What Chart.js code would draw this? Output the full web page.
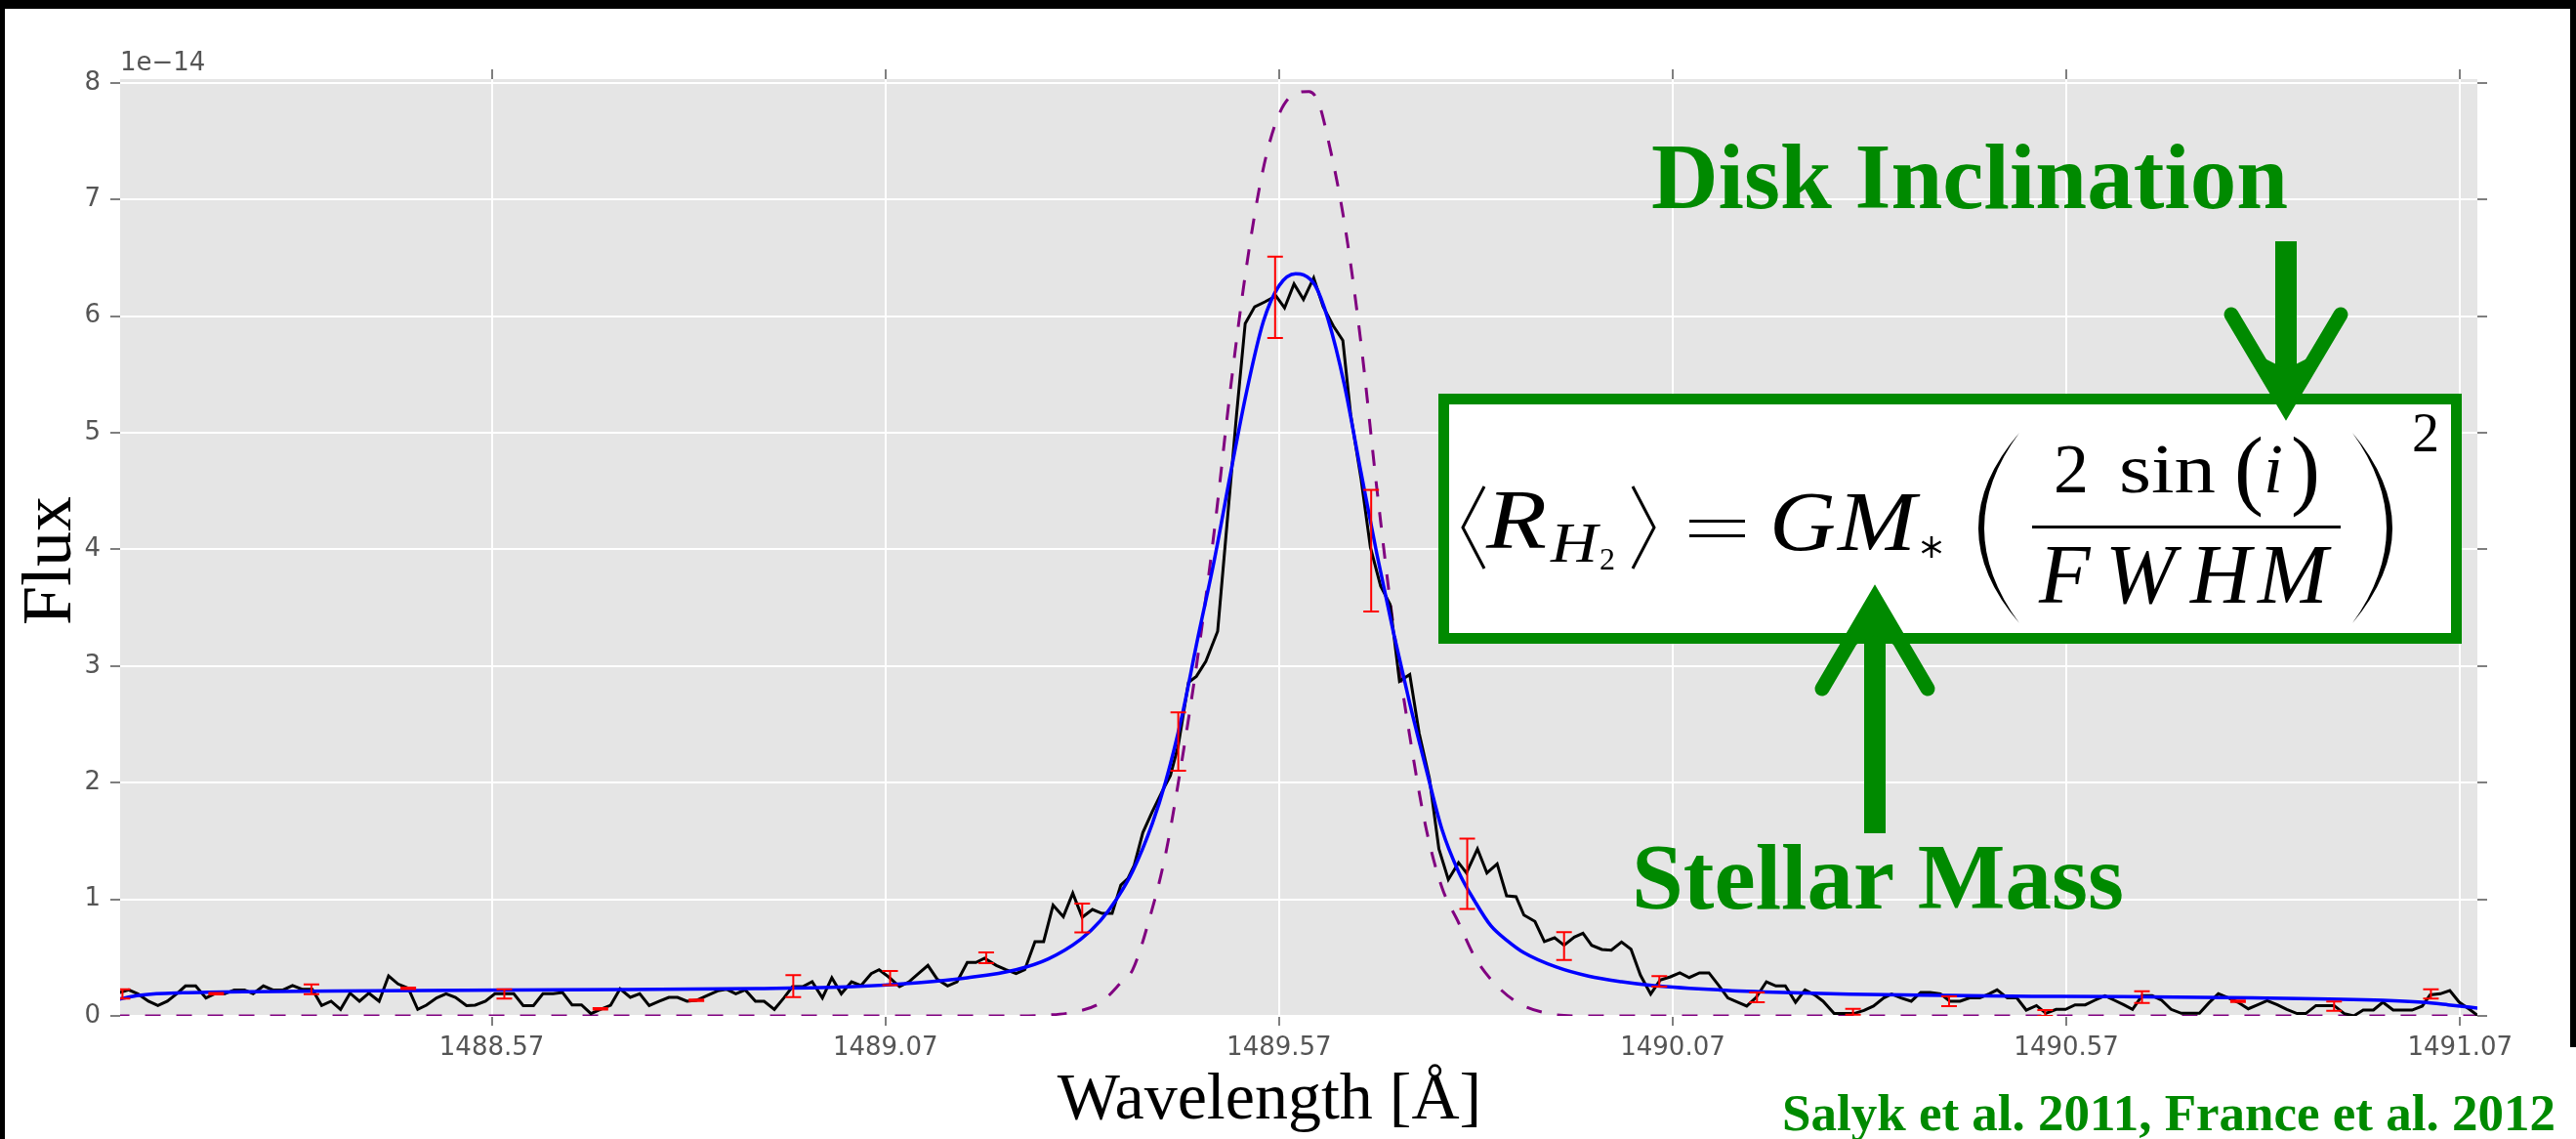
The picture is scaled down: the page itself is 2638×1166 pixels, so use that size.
<!DOCTYPE html>
<html>
<head>
<meta charset="utf-8">
<script src="https://cdn.jsdelivr.net/npm/chart.js@4.4.1/dist/chart.umd.min.js"></script>
<style>
  html, body { margin: 0; padding: 0; background: #fff; }
  #wrap { width: 2638px; height: 1166px; }
</style>
</head>
<body>
<div id="wrap"><canvas id="spec" width="2638" height="1166"></canvas></div>
<script>
// observed H2 line profile (flux in units of 1e-14)
const obsWave = [
  1488.094, 1488.109, 1488.121, 1488.134, 1488.146, 1488.158, 1488.171, 1488.181, 1488.194, 1488.207,
  1488.218, 1488.231, 1488.243, 1488.256, 1488.267, 1488.280, 1488.292, 1488.305, 1488.317, 1488.329,
  1488.342, 1488.354, 1488.366, 1488.378, 1488.390, 1488.402, 1488.414, 1488.427, 1488.439, 1488.451,
  1488.464, 1488.476, 1488.487, 1488.500, 1488.512, 1488.524, 1488.538, 1488.549, 1488.562, 1488.574,
  1488.586, 1488.598, 1488.610, 1488.623, 1488.635, 1488.648, 1488.660, 1488.672, 1488.684, 1488.696,
  1488.708, 1488.721, 1488.733, 1488.746, 1488.758, 1488.770, 1488.783, 1488.795, 1488.806, 1488.818,
  1488.830, 1488.843, 1488.857, 1488.868, 1488.880, 1488.892, 1488.905, 1488.916, 1488.929, 1488.941,
  1488.952, 1488.965, 1488.977, 1488.990, 1489.002, 1489.014, 1489.027, 1489.039, 1489.052, 1489.062,
  1489.074, 1489.088, 1489.100, 1489.112, 1489.124, 1489.136, 1489.149, 1489.161, 1489.174, 1489.185,
  1489.196, 1489.211, 1489.223, 1489.236, 1489.247, 1489.260, 1489.271, 1489.283, 1489.296, 1489.308,
  1489.320, 1489.333, 1489.345, 1489.358, 1489.369, 1489.378, 1489.386, 1489.397, 1489.409, 1489.422,
  1489.432, 1489.442, 1489.455, 1489.465, 1489.477, 1489.492, 1489.504, 1489.516, 1489.527, 1489.539,
  1489.552, 1489.566, 1489.577, 1489.589, 1489.601, 1489.614, 1489.626, 1489.639, 1489.651, 1489.661,
  1489.674, 1489.686, 1489.699, 1489.711, 1489.723, 1489.736, 1489.748, 1489.761, 1489.773, 1489.785,
  1489.798, 1489.808, 1489.822, 1489.834, 1489.847, 1489.859, 1489.871, 1489.881, 1489.895, 1489.907,
  1489.920, 1489.932, 1489.945, 1489.956, 1489.967, 1489.980, 1489.992, 1490.005, 1490.017, 1490.029,
  1490.042, 1490.054, 1490.067, 1490.079, 1490.091, 1490.104, 1490.116, 1490.129, 1490.140, 1490.153,
  1490.164, 1490.176, 1490.189, 1490.201, 1490.213, 1490.226, 1490.238, 1490.250, 1490.261, 1490.275,
  1490.288, 1490.300, 1490.313, 1490.325, 1490.338, 1490.348, 1490.360, 1490.373, 1490.385, 1490.397,
  1490.410, 1490.422, 1490.435, 1490.447, 1490.460, 1490.472, 1490.482, 1490.495, 1490.507, 1490.519,
  1490.532, 1490.544, 1490.557, 1490.569, 1490.581, 1490.594, 1490.606, 1490.619, 1490.631, 1490.643,
  1490.654, 1490.666, 1490.679, 1490.691, 1490.703, 1490.716, 1490.728, 1490.739, 1490.751, 1490.763,
  1490.776, 1490.788, 1490.801, 1490.813, 1490.825, 1490.838, 1490.850, 1490.863, 1490.874, 1490.887,
  1490.899, 1490.910, 1490.923, 1490.935, 1490.947, 1490.960, 1490.972, 1490.985, 1490.997, 1491.009,
  1491.022, 1491.032, 1491.045, 1491.057, 1491.069, 1491.082, 1491.092
];
const obsFlux = [
  0.195, 0.223, 0.187, 0.126, 0.089, 0.126, 0.195, 0.257, 0.257, 0.154,
  0.190, 0.190, 0.223, 0.223, 0.190, 0.257, 0.223, 0.223, 0.260, 0.229,
  0.229, 0.089, 0.126, 0.056, 0.195, 0.126, 0.195, 0.126, 0.343, 0.274,
  0.237, 0.056, 0.092, 0.154, 0.190, 0.159, 0.089, 0.092, 0.126, 0.190,
  0.190, 0.190, 0.089, 0.089, 0.190, 0.190, 0.201, 0.095, 0.095, 0.020,
  0.056, 0.092, 0.232, 0.159, 0.190, 0.089, 0.126, 0.159, 0.159, 0.126,
  0.134, 0.173, 0.215, 0.229, 0.190, 0.223, 0.126, 0.126, 0.056, 0.154,
  0.251, 0.251, 0.293, 0.154, 0.327, 0.190, 0.293, 0.260, 0.363, 0.396,
  0.335, 0.251, 0.293, 0.363, 0.433, 0.313, 0.257, 0.293, 0.458, 0.458,
  0.494, 0.433, 0.396, 0.363, 0.396, 0.637, 0.637, 0.949, 0.851, 1.052,
  0.846, 0.913, 0.879, 0.879, 1.122, 1.177, 1.290, 1.572, 1.752, 1.932,
  2.061, 2.319, 2.860, 2.912, 3.040, 3.298, 4.226, 5.154, 5.937, 6.081,
  6.123, 6.174, 6.071, 6.277, 6.143, 6.329, 6.081, 5.916, 5.793, 5.154,
  4.612, 4.020, 3.685, 3.530, 2.870, 2.927, 2.422, 2.035, 1.432, 1.169,
  1.314, 1.226, 1.432, 1.226, 1.303, 1.030, 1.022, 0.865, 0.810, 0.637,
  0.670, 0.606, 0.676, 0.709, 0.606, 0.570, 0.564, 0.634, 0.572, 0.349,
  0.187, 0.307, 0.335, 0.369, 0.329, 0.369, 0.369, 0.257, 0.154, 0.117,
  0.084, 0.159, 0.293, 0.257, 0.257, 0.117, 0.223, 0.181, 0.126, 0.020,
  0.020, 0.020, 0.047, 0.084, 0.154, 0.187, 0.154, 0.126, 0.201, 0.201,
  0.190, 0.126, 0.126, 0.154, 0.154, 0.190, 0.223, 0.154, 0.154, 0.050,
  0.089, 0.022, 0.056, 0.056, 0.095, 0.095, 0.134, 0.173, 0.134, 0.095,
  0.056, 0.173, 0.173, 0.134, 0.056, 0.022, 0.022, 0.022, 0.112, 0.190,
  0.154, 0.117, 0.061, 0.095, 0.131, 0.095, 0.056, 0.020, 0.020, 0.089,
  0.089, 0.089, 0.020, 0.000, 0.050, 0.050, 0.117, 0.050, 0.050, 0.050,
  0.084, 0.181, 0.190, 0.218, 0.117, 0.056, 0.006
];

// model fit (blue)
const fitWave = [
  1488.094, 1488.119, 1488.144, 1488.177, 1488.260, 1488.425, 1488.591, 1488.739, 1488.905, 1489.029,
  1489.112, 1489.174, 1489.236, 1489.277, 1489.318, 1489.343, 1489.364, 1489.384, 1489.409, 1489.426,
  1489.446, 1489.467, 1489.488, 1489.508, 1489.529, 1489.550, 1489.570, 1489.591, 1489.601, 1489.616,
  1489.632, 1489.653, 1489.674, 1489.694, 1489.715, 1489.736, 1489.757, 1489.777, 1489.798, 1489.819,
  1489.839, 1489.860, 1489.881, 1489.922, 1489.963, 1490.005, 1490.046, 1490.129, 1490.211, 1490.294,
  1490.418, 1490.526, 1490.641, 1490.807, 1490.972, 1491.022, 1491.055, 1491.096
];
const fitFlux = [
  0.140, 0.173, 0.190, 0.198, 0.207, 0.215, 0.223, 0.226, 0.235, 0.251,
  0.285, 0.327, 0.396, 0.489, 0.656, 0.815, 1.005, 1.240, 1.649, 2.010,
  2.551, 3.247, 3.917, 4.638, 5.360, 5.953, 6.262, 6.365, 6.355, 6.262,
  5.978, 5.411, 4.664, 3.968, 3.298, 2.680, 2.113, 1.597, 1.236, 0.979,
  0.773, 0.644, 0.542, 0.419, 0.341, 0.293, 0.260, 0.223, 0.201, 0.187,
  0.176, 0.168, 0.166, 0.154, 0.134, 0.117, 0.095, 0.064
];

// intrinsic (unconvolved) profile, purple dashed
const intrWave = [
  1488.090, 1489.240, 1489.269, 1489.310, 1489.343, 1489.372, 1489.384, 1489.405, 1489.426, 1489.446,
  1489.467, 1489.488, 1489.508, 1489.529, 1489.550, 1489.570, 1489.591, 1489.608, 1489.620, 1489.632,
  1489.653, 1489.674, 1489.694, 1489.715, 1489.736, 1489.757, 1489.777, 1489.798, 1489.819, 1489.845,
  1489.874, 1489.916, 1489.950, 1491.095
];
const intrFlux = [
  0.000, 0.000, 0.005, 0.034, 0.112, 0.307, 0.395, 0.824, 1.391, 2.164,
  3.092, 4.174, 5.360, 6.442, 7.267, 7.731, 7.911, 7.927, 7.834, 7.525,
  6.803, 5.772, 4.535, 3.350, 2.400, 1.600, 1.100, 0.800, 0.500, 0.270,
  0.110, 0.015, 0.000, 0.000
];

// sparse error bars (red)
const errWave = [
  1488.101, 1488.220, 1488.341, 1488.464, 1488.586, 1488.708, 1488.830, 1488.953, 1489.076, 1489.198,
  1489.320, 1489.442, 1489.565, 1489.687, 1489.809, 1489.932, 1490.053, 1490.177, 1490.299, 1490.421,
  1490.543, 1490.666, 1490.788, 1490.910, 1491.033
];
const errFlux = [
  0.188, 0.190, 0.229, 0.237, 0.188, 0.061, 0.134, 0.255, 0.324, 0.498,
  0.840, 2.353, 6.162, 3.989, 1.219, 0.599, 0.296, 0.159, 0.035, 0.126,
  0.025, 0.162, 0.126, 0.084, 0.188
];
const errSize = [
  0.040, 0.006, 0.042, 0.006, 0.040, 0.006, 0.006, 0.094, 0.061, 0.046,
  0.123, 0.250, 0.348, 0.521, 0.302, 0.119, 0.045, 0.042, 0.025, 0.042,
  0.025, 0.050, 0.006, 0.039, 0.040
];

const xTicks = [1488.57, 1489.07, 1489.57, 1490.07, 1490.57, 1491.07];
const yTicks = [0, 1, 2, 3, 4, 5, 6, 7, 8];

const GREEN = '#008a00';
const SERIF = '"Liberation Serif", "Times New Roman", serif';
const TICK_FONT = { family: 'DejaVu Sans', size: 26 };

function pairs(xs, ys) {
  return xs.map((x, i) => ({ x: x, y: ys[i] }));
}

// grey ggplot-ish panel and the black frame of the slide
const backdrop = {
  id: 'backdrop',
  beforeDraw(chart) {
    const { ctx, chartArea: a, width, height } = chart;
    ctx.save();
    ctx.fillStyle = '#ffffff';
    ctx.fillRect(0, 0, width, height);
    ctx.fillStyle = '#e5e5e5';
    ctx.fillRect(a.left, a.top, a.right - a.left, a.bottom - a.top);
    ctx.fillStyle = '#000';
    ctx.fillRect(0, 0, width, 9);
    ctx.fillRect(0, 0, 5, height);
    ctx.fillRect(2632, 0, 6, 1072);
    ctx.restore();
  }
};

const errorBars = {
  id: 'errorBars',
  afterDatasetsDraw(chart) {
    const { ctx, chartArea: a, scales: { x, y } } = chart;
    ctx.save();
    ctx.beginPath();
    ctx.rect(a.left, a.top, a.right - a.left, a.bottom - a.top);
    ctx.clip();
    ctx.strokeStyle = '#ff0000';
    ctx.lineWidth = 2;
    errWave.forEach((w, i) => {
      const px = x.getPixelForValue(w);
      const top = y.getPixelForValue(errFlux[i] + errSize[i]);
      const bot = y.getPixelForValue(errFlux[i] - errSize[i]);
      ctx.beginPath();
      ctx.moveTo(px, top); ctx.lineTo(px, bot);
      ctx.moveTo(px - 8, top); ctx.lineTo(px + 8, top);
      ctx.moveTo(px - 8, bot); ctx.lineTo(px + 8, bot);
      ctx.stroke();
    });
    ctx.restore();
  }
};

function bigParen(ctx, xEnd, xMid, yTop, yBot, t) {
  const ym = (yTop + yBot) / 2;
  const dir = Math.sign(xEnd - xMid);
  const c1 = 2 * xMid - xEnd;
  const c2 = 2 * (xMid + dir * t) - xEnd;
  ctx.beginPath();
  ctx.moveTo(xEnd, yTop);
  ctx.quadraticCurveTo(c1, ym, xEnd, yBot);
  ctx.quadraticCurveTo(c2, ym, xEnd, yTop);
  ctx.fill();
}

function fitText(ctx, text, x, y, width) {
  const w = ctx.measureText(text).width;
  ctx.save();
  ctx.translate(x, y);
  ctx.scale(width / w, 1);
  ctx.fillText(text, 0, 0);
  ctx.restore();
}

// marker-style arrow: thick shaft plus two heavy wings meeting at the tip
function arrow(ctx, x, yTail, yTip, headLen, headHalf) {
  const d = Math.sign(yTip - yTail);
  const yb = yTip - d * headLen;
  ctx.fillStyle = GREEN;
  ctx.strokeStyle = GREEN;
  ctx.fillRect(x - 11, Math.min(yTail, yTip - d * 20), 22, Math.abs(yTip - d * 20 - yTail));
  ctx.lineWidth = 15;
  ctx.lineCap = 'round';
  ctx.beginPath();
  ctx.moveTo(x - headHalf + 6, yb);
  ctx.lineTo(x, yTip - d * 8);
  ctx.lineTo(x + headHalf - 6, yb);
  ctx.stroke();
  ctx.beginPath();
  ctx.moveTo(x, yTip);
  ctx.lineTo(x - headHalf * 0.55, yTip - d * headLen * 0.62);
  ctx.lineTo(x, yTip - d * headLen * 0.45);
  ctx.lineTo(x + headHalf * 0.55, yTip - d * headLen * 0.62);
  ctx.closePath();
  ctx.fill();
  ctx.lineCap = 'butt';
}

function drawFormula(ctx) {
  ctx.fillStyle = '#ffffff';
  ctx.fillRect(1473, 403, 1048, 256);
  ctx.strokeStyle = GREEN;
  ctx.lineWidth = 11;
  ctx.strokeRect(1478.5, 408.5, 1037, 245);

  ctx.fillStyle = '#000';
  ctx.strokeStyle = '#000';
  ctx.lineWidth = 3;
  ctx.beginPath();
  ctx.moveTo(1520, 498); ctx.lineTo(1498, 540); ctx.lineTo(1520, 582);
  ctx.moveTo(1672, 498); ctx.lineTo(1694, 540); ctx.lineTo(1672, 582);
  ctx.stroke();

  ctx.textAlign = 'left';
  ctx.textBaseline = 'alphabetic';
  ctx.font = 'italic 86px ' + SERIF;
  fitText(ctx, 'R', 1522, 561, 62);
  fitText(ctx, 'G', 1812, 563, 68);
  fitText(ctx, 'M', 1882, 563, 80);
  ctx.font = 'italic 56px ' + SERIF;
  fitText(ctx, 'H', 1588, 575, 48);
  ctx.font = '32px ' + SERIF;
  ctx.fillText('2', 1638, 583);

  // equals sign
  ctx.fillRect(1730, 532, 57, 3);
  ctx.fillRect(1730, 547, 57, 3);

  // subscript asterisk
  ctx.lineWidth = 2.5;
  ctx.beginPath();
  for (let k = 0; k < 3; k++) {
    const ang = Math.PI / 2 + k * Math.PI / 3;
    ctx.moveTo(1978 + 11 * Math.cos(ang), 560 + 11 * Math.sin(ang));
    ctx.lineTo(1978 - 11 * Math.cos(ang), 560 - 11 * Math.sin(ang));
  }
  ctx.stroke();

  bigParen(ctx, 2068, 2026, 443, 638, 6);
  bigParen(ctx, 2409, 2450, 443, 638, 6);

  // numerator 2 sin(i)
  ctx.font = '72px ' + SERIF;
  ctx.fillText('2', 2103, 504);
  fitText(ctx, 'sin', 2170, 504, 99);
  ctx.font = '90px ' + SERIF;
  ctx.fillText('(', 2288, 510);
  ctx.fillText(')', 2346, 510);
  ctx.font = 'italic 72px ' + SERIF;
  ctx.fillText('i', 2318, 504);

  ctx.fillRect(2081, 538, 316, 3);

  ctx.font = 'italic 86px ' + SERIF;
  ctx.fillText('F', 2088, 617);
  ctx.fillText('W', 2156, 617);
  ctx.fillText('H', 2243, 617);
  ctx.fillText('M', 2312, 617);

  ctx.font = '56px ' + SERIF;
  ctx.fillText('2', 2470, 462);
}

const annotations = {
  id: 'annotations',
  afterDraw(chart) {
    const ctx = chart.ctx;
    ctx.save();
    drawFormula(ctx);
    arrow(ctx, 2341, 247, 424, 102, 62);
    arrow(ctx, 1920, 853, 605, 100, 60);

    ctx.fillStyle = GREEN;
    ctx.textAlign = 'left';
    ctx.textBaseline = 'alphabetic';
    ctx.font = 'bold 95px ' + SERIF;
    ctx.fillText('Disk Inclination', 1691, 213);
    ctx.fillText('Stellar Mass', 1671, 930);
    ctx.font = 'bold 53px ' + SERIF;
    ctx.fillText('Salyk et al. 2011, France et al. 2012', 1825, 1157);

    // axis titles and offset text
    ctx.fillStyle = '#000';
    ctx.font = '68px ' + SERIF;
    ctx.textAlign = 'center';
    ctx.fillText('Wavelength [Å]', 1300, 1145);
    ctx.save();
    ctx.translate(72, 574);
    ctx.rotate(-Math.PI / 2);
    ctx.font = '72px ' + SERIF;
    ctx.fillText('Flux', 0, 0);
    ctx.restore();

    ctx.fillStyle = '#555';
    ctx.textAlign = 'left';
    ctx.font = '26px "DejaVu Sans"';
    ctx.fillText('1e\u221214', 123, 72);
    ctx.restore();
  }
};

const xRange = { min: 1488.098, max: 1491.092 };
const gridStyle = { color: '#ffffff', lineWidth: 2, tickColor: '#555555', tickLength: 10, tickWidth: 1.5 };

new Chart(document.getElementById('spec'), {
  type: 'line',
  data: {
    datasets: [
      { label: 'fit', data: pairs(fitWave, fitFlux), borderColor: '#0000ff', borderWidth: 3.5,
        pointRadius: 0, cubicInterpolationMode: 'monotone', order: 1 },
      { label: 'observed', data: pairs(obsWave, obsFlux), borderColor: '#000000', borderWidth: 3,
        pointRadius: 0, tension: 0, order: 2 },
      { label: 'intrinsic', data: pairs(intrWave, intrFlux), borderColor: '#800080', borderWidth: 3,
        borderDash: [16, 16], pointRadius: 0, cubicInterpolationMode: 'monotone', order: 3 }
    ]
  },
  options: {
    responsive: false,
    animation: false,
    devicePixelRatio: 1,
    layout: { padding: 0 },
    plugins: { legend: { display: false }, tooltip: { enabled: false } },
    scales: {
      x: {
        type: 'linear', position: 'bottom', min: xRange.min, max: xRange.max,
        afterBuildTicks: s => { s.ticks = xTicks.map(v => ({ value: v })); },
        afterFit: s => { s.height = 126; },
        ticks: { color: '#555', font: TICK_FONT, padding: 8, maxRotation: 0, autoSkip: false,
                 callback: v => v.toFixed(2) },
        grid: gridStyle,
        border: { display: false }
      },
      xTop: {
        type: 'linear', position: 'top', min: xRange.min, max: xRange.max,
        afterBuildTicks: s => { s.ticks = xTicks.map(v => ({ value: v })); },
        afterFit: s => { s.height = 81; },
        ticks: { display: false },
        grid: { ...gridStyle, drawOnChartArea: false },
        border: { display: false }
      },
      y: {
        type: 'linear', position: 'left', min: 0, max: 8.033,
        afterBuildTicks: s => { s.ticks = yTicks.map(v => ({ value: v })); },
        afterFit: s => { s.width = 123; },
        ticks: { color: '#555', font: TICK_FONT, padding: 10, callback: v => String(v) },
        grid: gridStyle,
        border: { display: false }
      },
      yRight: {
        type: 'linear', position: 'right', min: 0, max: 8.033,
        afterBuildTicks: s => { s.ticks = yTicks.map(v => ({ value: v })); },
        afterFit: s => { s.width = 101; },
        ticks: { display: false },
        grid: { ...gridStyle, drawOnChartArea: false },
        border: { display: false }
      }
    }
  },
  plugins: [backdrop, errorBars, annotations]
});
</script>
</body>
</html>
